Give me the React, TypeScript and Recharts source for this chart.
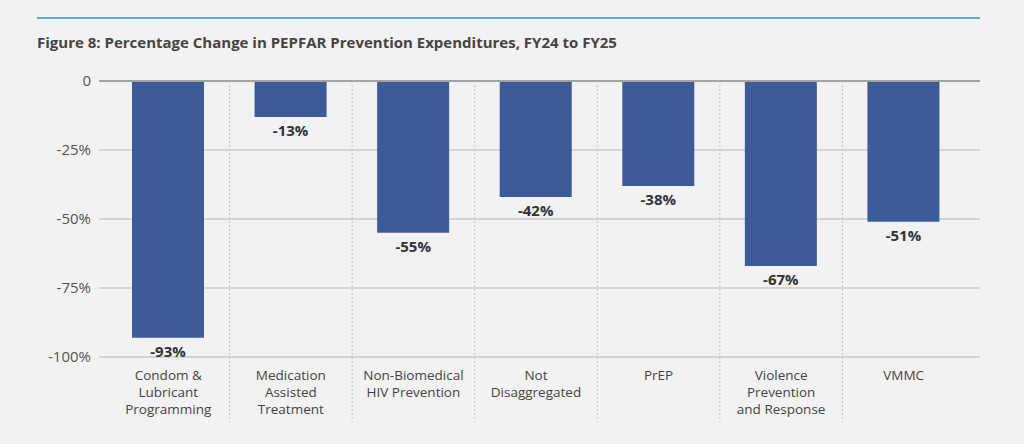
import { Bar, BarChart, CartesianGrid, LabelList, ReferenceLine, XAxis, YAxis } from 'recharts';

const categories = [
  'Condom &\nLubricant\nProgramming',
  'Medication\nAssisted\nTreatment',
  'Non-Biomedical\nHIV Prevention',
  'Not\nDisaggregated',
  'PrEP',
  'Violence\nPrevention\nand Response',
  'VMMC',
];
const changes = [-93, -13, -55, -42, -38, -67, -51];
const yTicks = [0, -25, -50, -75, -100];

const data = categories.map((name, i) => ({ name, change: changes[i] }));

const FONT = '"Open Sans", "Noto Sans", sans-serif';
const PLOT_TOP = 81;

const CategoryTick = (props: any) => {
  const { x, y, payload, index } = props;
  const half = payload && payload.offset ? payload.offset : 61.3;
  const lines = String(payload.value).split('\n');
  return (
    <g>
      {index > 0 && (
        <line
          x1={x - half}
          x2={x - half}
          y1={PLOT_TOP}
          y2={422}
          stroke="#c4c4c4"
          strokeDasharray="2 2"
        />
      )}
      <text x={x} y={y + 15} textAnchor="middle" fill="#444" fontSize={13.5} fontFamily={FONT}>
        {lines.map((l, i) => (
          <tspan key={i} x={x} dy={i === 0 ? 0 : 17}>
            {l}
          </tspan>
        ))}
      </text>
    </g>
  );
};

const ValueLabel = (props: any) => {
  const { x, y, width, height, value } = props;
  const bottom = Math.max(y, y + height);
  return (
    <text
      x={x + width / 2}
      y={bottom + 19}
      textAnchor="middle"
      fill="#333"
      fontSize={15}
      fontWeight={700}
      fontFamily={FONT}
    >
      {value}%
    </text>
  );
};

export default function App() {
  return (
    <div
      style={{
        position: 'absolute',
        left: 0,
        top: 0,
        width: 1024,
        height: 444,
        background: '#f2f2f2',
        overflow: 'hidden',
      }}
    >
      <div
        style={{
          position: 'absolute',
          left: 37,
          top: 17,
          width: 943,
          height: 2,
          background: '#62a9dd',
        }}
      />
      <div
        style={{
          position: 'absolute',
          left: 37,
          top: 32,
          fontFamily: FONT,
          fontWeight: 700,
          fontSize: 15,
          color: '#444',
          whiteSpace: 'nowrap',
        }}
      >
        Figure 8: Percentage Change in PEPFAR Prevention Expenditures, FY24 to FY25
      </div>
      <div style={{ position: 'absolute', left: 0, top: 0 }}>
        <BarChart
          width={1024}
          height={444}
          data={data}
          margin={{ top: PLOT_TOP, right: 44, bottom: 0, left: 0 }}
        >
          <CartesianGrid vertical={false} stroke="#cacaca" strokeWidth={1.5} />
          <XAxis
            dataKey="name"
            interval={0}
            height={87}
            padding={{ left: 8, right: 15 }}
            axisLine={false}
            tickLine={false}
            tick={<CategoryTick />}
          />
          <YAxis
            domain={[-100, 0]}
            ticks={yTicks}
            width={99}
            axisLine={false}
            tickLine={false}
            tick={{ fill: '#555', fontSize: 15, fontFamily: FONT }}
            tickFormatter={(v: number) => (v === 0 ? '0' : `${v}%`)}
          />
          <ReferenceLine y={0} stroke="#a3a3a3" strokeWidth={2} />
          <Bar dataKey="change" fill="#3d5a99" barSize={72} isAnimationActive={false}>
            <LabelList dataKey="change" content={<ValueLabel />} />
          </Bar>
        </BarChart>
      </div>
    </div>
  );
}
